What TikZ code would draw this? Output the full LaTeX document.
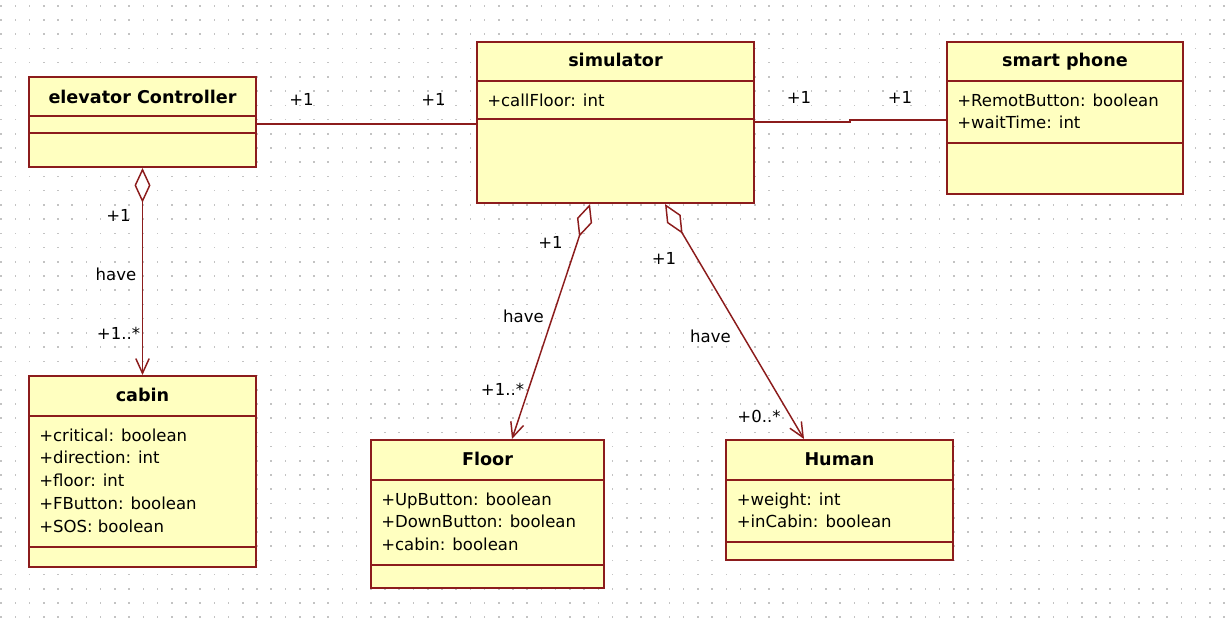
\documentclass[tikz,border=0pt]{standalone}
\usepackage{fontspec}
\setmainfont{DejaVu Sans}
\usetikzlibrary{arrows.meta}
\definecolor{umlred}{RGB}{140,28,28}
\definecolor{umlfill}{RGB}{255,255,192}
\definecolor{griddot}{RGB}{195,195,195}
\tikzset{
  classbox/.style={draw=umlred, fill=umlfill, line width=1.5pt, rectangle, inner sep=0pt},
  sepline/.style={draw=umlred, line width=1.5pt},
  classname/.style={anchor=base, inner sep=0pt, font=\fontsize{13.2}{15}\selectfont\bfseries},
  attr/.style={anchor=base west, inner sep=0pt, font=\fontsize{12.4}{15}\selectfont},
  lbl/.style={anchor=base, inner sep=0pt, font=\fontsize{12.4}{15}\selectfont},
  conn/.style={draw=umlred, line width=1.1pt},
  agg/.style={conn, {Diamond[fill=white, length=26pt, width=12pt]}-{Straight Barb[length=11pt, width=10pt]}}
}
\begin{document}
\begin{tikzpicture}[x=0.75pt,y=-0.75pt]
\useasboundingbox (0,0) rectangle (1225,619);
\fill[white] (0,0) rectangle (1225,619);
% grid dots
\foreach \i in {0,...,86}{
  \foreach \j in {0,...,43}{
    \fill[griddot] ({0.3+14.22*\i},{5+14.22*\j}) rectangle +(1.6,1.6);
  }
}
% class boxes
\node[classbox, minimum width=170.25pt, minimum height=67.5pt] (ec) at (142.5,122) {};
\node[classbox, minimum width=207.75pt, minimum height=120.75pt] (sim) at (615.5,122.5) {};
\node[classbox, minimum width=177pt, minimum height=114pt] (phone) at (1065,118) {};
\node[classbox, minimum width=170.25pt, minimum height=143.25pt] (cabin) at (142.5,471.5) {};
\node[classbox, minimum width=174.75pt, minimum height=111pt] (floor) at (487.5,514) {};
\node[classbox, minimum width=170.25pt, minimum height=90pt] (human) at (839.5,500) {};
% compartment lines
\draw[sepline] (ec.west |- 0,116) -- (ec.east |- 0,116);
\draw[sepline] (ec.west |- 0,133) -- (ec.east |- 0,133);
\draw[sepline] (sim.west |- 0,81) -- (sim.east |- 0,81);
\draw[sepline] (sim.west |- 0,119) -- (sim.east |- 0,119);
\draw[sepline] (phone.west |- 0,81) -- (phone.east |- 0,81);
\draw[sepline] (phone.west |- 0,143) -- (phone.east |- 0,143);
\draw[sepline] (cabin.west |- 0,416) -- (cabin.east |- 0,416);
\draw[sepline] (cabin.west |- 0,547) -- (cabin.east |- 0,547);
\draw[sepline] (floor.west |- 0,480) -- (floor.east |- 0,480);
\draw[sepline] (floor.west |- 0,565) -- (floor.east |- 0,565);
\draw[sepline] (human.west |- 0,480) -- (human.east |- 0,480);
\draw[sepline] (human.west |- 0,542) -- (human.east |- 0,542);
% names
\node[classname] (ecname) at (142.5,103) {elevator Controller};
\node[classname] (simname) at (615.5,66.5) {simulator};
\node[classname] (phonename) at (1065,66.5) {smart phone};
\node[classname] (cabinname) at (142.5,401.5) {cabin};
\node[classname] (floorname) at (487.5,465) {Floor};
\node[classname] (humanname) at (839.5,465) {Human};
% attributes
\node[attr] (sa1) at (487,106.5) {+callFloor: int};
\node[attr] (pa1) at (957,106) {+RemotButton: boolean};
\node[attr] (pa2) at (957,128.5) {+waitTime: int};
\node[attr] (ca1) at (39,441) {+critical: boolean};
\node[attr] (ca2) at (39,463.8) {+direction: int};
\node[attr] (ca3) at (39,486.6) {+floor: int};
\node[attr] (ca4) at (39,509.4) {+FButton: boolean};
\node[attr] (ca5) at (39,532.2) {+SOS: boolean};
\node[attr] (fa1) at (381,505) {+UpButton: boolean};
\node[attr] (fa2) at (381,527.5) {+DownButton: boolean};
\node[attr] (fa3) at (381,550) {+cabin: boolean};
\node[attr] (ha1) at (736.5,505) {+weight: int};
\node[attr] (ha2) at (736.5,527.5) {+inCabin: boolean};
% connectors
\coordinate (jog1) at (850,122);
\coordinate (jog2) at (850,120);
\draw[conn] (ec.east |- 0,124) -- (sim.west |- 0,124);
\draw[conn] (sim.east |- 0,122) -- (jog1) -- (jog2) -- (phone.west |- 0,120);
\draw[agg] (ec.south) -- (cabin.north);
\draw[agg] (sim.south -| 590,0) -- (floor.north -| 512,0);
\draw[agg] (sim.south -| 665,0) -- (human.north -| 804,0);
% labels
\node[lbl] (l1) at (301.5,105) {+1};
\node[lbl] (l2) at (433.5,105) {+1};
\node[lbl] (l3) at (799,103.5) {+1};
\node[lbl] (l4) at (900,103.5) {+1};
\node[lbl] (l5) at (118.5,221.5) {+1};
\node[lbl] (l6) at (116,280) {have};
\node[lbl] (l7) at (118.5,339) {+1..*};
\node[lbl] (l8) at (550.5,248.3) {+1};
\node[lbl] (l9) at (523.5,322.7) {have};
\node[lbl] (l10) at (502.5,395) {+1..*};
\node[lbl] (l11) at (664,264) {+1};
\node[lbl] (l12) at (710.5,342.3) {have};
\node[lbl] (l13) at (759,422.3) {+0..*};
\end{tikzpicture}
\end{document}
